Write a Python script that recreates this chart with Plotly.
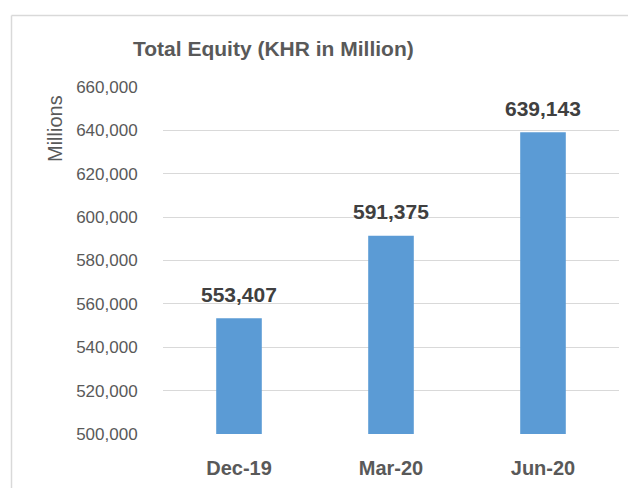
import plotly.graph_objects as go

categories = ["Dec-19", "Mar-20", "Jun-20"]
values = [553407, 591375, 639143]
tick_vals = [500000, 520000, 540000, 560000, 580000, 600000, 620000, 640000, 660000]
tick_text = [f"{v:,}" for v in tick_vals]
labels = [f"{v:,}" for v in values]

W, H = 628, 488
L, R, T, B = 163, 9, 87, 54
pw, ph = W - L - R, H - T - B

def px(x):
    return (x - L) / pw

def py(y):
    return 1 - (y - T) / ph

fig = go.Figure(go.Bar(
    x=categories, y=values,
    marker=dict(color="#5b9bd5", line=dict(width=0)),
))

label_annotations = [
    dict(text=f"<b>{t}</b>", x=c, y=v, xref="x", yref="y",
         xanchor="center", yanchor="middle", yshift=24, showarrow=False,
         font=dict(family="Liberation Sans", size=21, color="#404040"))
    for c, v, t in zip(categories, values, labels)
]

fig.update_layout(
    width=W, height=H,
    margin=dict(l=L, r=R, t=T, b=B),
    paper_bgcolor="white", plot_bgcolor="white",
    bargap=0.7,
    showlegend=False,
    font=dict(family="Liberation Sans"),
    xaxis=dict(
        showgrid=False, showline=False, zeroline=False,
        tickfont=dict(size=20, color="#595959", weight="bold"),
        ticks="outside", ticklen=16, tickcolor="rgba(0,0,0,0)",
    ),
    yaxis=dict(
        range=[500000, 660000],
        tickvals=tick_vals, ticktext=tick_text,
        showgrid=True, gridcolor="#d9d9d9", gridwidth=1,
        zeroline=False, showline=False,
        tickfont=dict(size=17, color="#595959"),
        ticks="outside", ticklen=21, tickcolor="rgba(0,0,0,0)",
    ),
    shapes=[
        dict(type="line", xref="paper", yref="paper",
             x0=px(11.5), x1=px(640), y0=py(15.5), y1=py(15.5),
             line=dict(color="#d9d9d9", width=1.5)),
        dict(type="line", xref="paper", yref="paper",
             x0=px(11.5), x1=px(11.5), y0=py(15.5), y1=py(500),
             line=dict(color="#d9d9d9", width=1.5)),
    ],
    annotations=[
        dict(text="<b>Total Equity (KHR in Million)</b>", xref="paper", yref="paper",
             x=px(273), y=py(48), xanchor="center", yanchor="middle", showarrow=False,
             font=dict(size=21, color="#595959")),
        dict(text="Millions", xref="paper", yref="paper",
             x=px(55), y=py(129), xanchor="center", yanchor="middle", showarrow=False,
             textangle=-90, font=dict(size=20, color="#595959")),
    ] + label_annotations,
)

fig.write_html("out.html")
